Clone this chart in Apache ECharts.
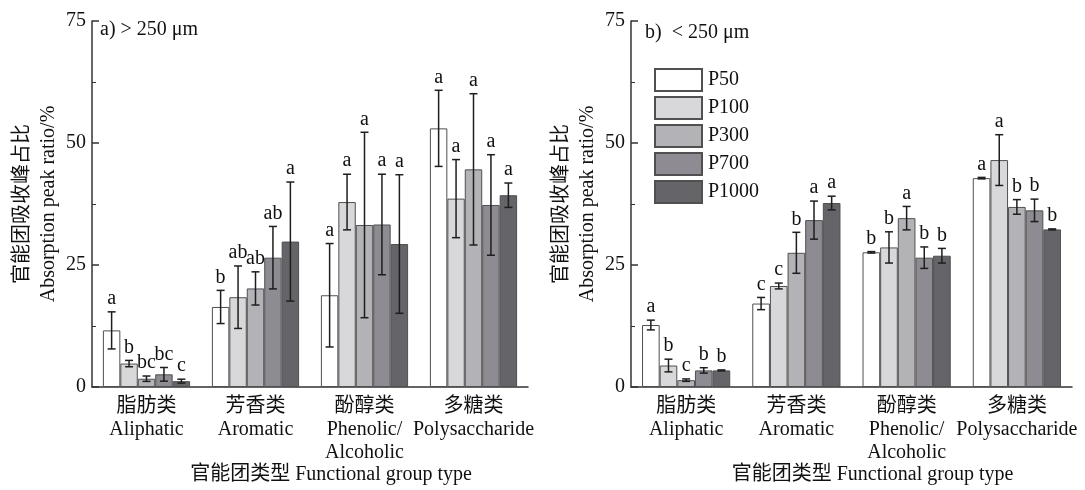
<!DOCTYPE html>
<html>
<head>
<meta charset="utf-8">
<script src="https://cdn.jsdelivr.net/npm/echarts@6/dist/echarts.min.js"></script>
<style>
html,body{margin:0;padding:0;background:#fff;}
#c{width:1085px;height:490px;}
</style>
</head>
<body>
<div id="c"></div>
<script>
var categories = ['脂肪类\nAliphatic', '芳香类\nAromatic', '酚醇类\nPhenolic/\nAlcoholic', '多糖类\nPolysaccharide'];
var seriesNames = ['P50', 'P100', 'P300', 'P700', 'P1000'];
var yTicks = [0, 25, 50, 75];

// panel a) > 250 μm : rows = series (P50..P1000), cols = categories
var meansA = [
  [11.6, 16.4, 18.8, 53.0],
  [4.8, 18.4, 37.9, 38.6],
  [1.7, 20.2, 33.2, 44.6],
  [2.6, 26.5, 33.3, 37.3],
  [1.2, 29.8, 29.3, 39.3]
];
var errA = [
  [3.8, 3.4, 10.6, 7.8],
  [0.65, 6.4, 5.7, 8.0],
  [0.55, 3.4, 19.0, 15.5],
  [1.4, 6.4, 10.3, 10.3],
  [0.4, 12.2, 14.2, 2.5]
];
var sigA = [
  ['a', 'b', 'a', 'a'],
  ['b', 'ab', 'a', 'a'],
  ['bc', 'ab', 'a', 'a'],
  ['bc', 'ab', 'a', 'a'],
  ['c', 'a', 'a', 'a']
];

// panel b) < 250 μm
var meansB = [
  [12.7, 17.1, 27.6, 42.8],
  [4.4, 20.7, 28.6, 46.5],
  [1.4, 27.5, 34.6, 36.9],
  [3.4, 34.2, 26.5, 36.2],
  [3.4, 37.7, 26.9, 32.3]
];
var errB = [
  [1.0, 1.25, 0.15, 0.15],
  [1.3, 0.6, 3.2, 5.2],
  [0.25, 4.2, 2.4, 1.5],
  [0.55, 3.9, 2.2, 2.3],
  [0.1, 1.4, 1.5, 0.1]
];
var sigB = [
  ['a', 'c', 'b', 'a'],
  ['b', 'c', 'b', 'a'],
  ['c', 'b', 'a', 'b'],
  ['b', 'a', 'b', 'b'],
  ['b', 'a', 'b', 'b']
];

var fills = ['#ffffff', '#d8d7d9', '#b3b2b7', '#8f8b92', '#646469'];
var FONT = '"Liberation Serif", "Times New Roman", "Noto Sans CJK SC", serif';
var GAP = 0.2;

var chart = echarts.init(document.getElementById('c'), null, {renderer: 'canvas'});

function makeBars(means, idx) {
  return means.map(function (row, s) {
    return {
      type: 'bar', name: seriesNames[s], xAxisIndex: idx, yAxisIndex: idx,
      data: row, barGap: '0%', barCategoryGap: (GAP * 100) + '%',
      itemStyle: {color: fills[s], borderColor: '#505050', borderWidth: 1},
      emphasis: {disabled: true}, animation: false, z: 2
    };
  });
}

function makeErr(means, errs, sigs, idx) {
  var data = [];
  means.forEach(function (row, s) {
    row.forEach(function (v, c) {
      data.push([c, v, errs[s][c], s, sigs[s][c]]);
    });
  });
  return {
    type: 'custom', xAxisIndex: idx, yAxisIndex: idx, z: 5, animation: false,
    silent: true,
    encode: {x: 0, y: 1},
    data: data,
    renderItem: function (params, api) {
      var c = api.value(0), v = api.value(1), e = api.value(2), s = api.value(3);
      var sig = data[params.dataIndex][4];
      var band = api.size([1, 0])[0];
      var bw = band * (1 - GAP) / seriesNames.length;
      var cx = api.coord([c, v])[0] + (s - (seriesNames.length - 1) / 2) * bw;
      var yTop = api.coord([c, v + e])[1];
      var yBot = api.coord([c, Math.max(0, v - e)])[1];
      var cap = 4;
      var st = {stroke: '#1e1e1e', lineWidth: 1.5};
      return {
        type: 'group',
        children: [
          {type: 'line', shape: {x1: cx, y1: yTop, x2: cx, y2: yBot}, style: st},
          {type: 'line', shape: {x1: cx - cap, y1: yTop, x2: cx + cap, y2: yTop}, style: st},
          {type: 'line', shape: {x1: cx - cap, y1: yBot, x2: cx + cap, y2: yBot}, style: st},
          {type: 'text', x: cx, y: yTop - 3,
           style: {text: sig, font: '20px ' + FONT, fill: '#111', align: 'center', verticalAlign: 'bottom'}}
        ]
      };
    }
  };
}

function xAx(idx) {
  return {
    type: 'category', gridIndex: idx, data: categories,
    axisLine: {show: true, lineStyle: {color: '#333', width: 1.5}},
    axisTick: {show: false},
    axisLabel: {color: '#111', fontSize: 20, fontFamily: FONT, lineHeight: 23, margin: 8, interval: 0},
    name: '官能团类型 Functional group type',
    nameLocation: 'middle', nameGap: 78, nameMoveOverlap: false,
    nameTextStyle: {color: '#111', fontSize: 20, fontFamily: FONT, padding: [0, 0, 0, 42]}
  };
}
function yAx(idx) {
  return {
    type: 'value', gridIndex: idx, min: 0, max: 75, interval: 25,
    axisLine: {show: true, lineStyle: {color: '#333', width: 1.5}},
    axisTick: {show: true, inside: true, length: 7, lineStyle: {color: '#333', width: 1.5}},
    minorTick: {show: true, splitNumber: 2, length: 4, lineStyle: {color: '#333', width: 1}},
    splitLine: {show: false},
    axisLabel: {color: '#111', fontSize: 20, fontFamily: FONT, margin: 6,
      formatter: function (v) { return yTicks.indexOf(v) >= 0 ? String(v) : ''; }},
    name: '官能团吸收峰占比\nAbsorption peak ratio/%',
    nameLocation: 'middle', nameGap: 30, nameRotate: 90, nameMoveOverlap: false,
    nameTextStyle: {color: '#111', fontSize: 20, fontFamily: FONT, lineHeight: 26}
  };
}

var option = {
  backgroundColor: '#fff',
  animation: false,
  title: [
    {text: 'a) > 250 μm', left: 100, top: 20, padding: 0,
     textStyle: {fontSize: 20, fontWeight: 'normal', color: '#111', fontFamily: FONT}},
    {text: 'b)  < 250 μm', left: 645, top: 23, padding: 0,
     textStyle: {fontSize: 20, fontWeight: 'normal', color: '#111', fontFamily: FONT}}
  ],
  legend: {
    data: seriesNames, orient: 'vertical', left: 654, top: 68,
    itemWidth: 47, itemHeight: 22, itemGap: 4, icon: 'rect', padding: 0,
    textStyle: {fontSize: 20, fontFamily: FONT, color: '#111', padding: [0, 0, 0, 1]},
    selectedMode: false
  },
  grid: [
    {left: 92, right: 557, top: 21, bottom: 103, containLabel: false, outerBoundsMode: 'none'},
    {left: 631, right: 13, top: 21, bottom: 103, containLabel: false, outerBoundsMode: 'none'}
  ],
  xAxis: [xAx(0), xAx(1)],
  yAxis: [yAx(0), yAx(1)],
  series: [].concat(
    makeBars(meansA, 0), [makeErr(meansA, errA, sigA, 0)],
    makeBars(meansB, 1), [makeErr(meansB, errB, sigB, 1)]
  )
};
chart.setOption(option);
</script>
</body>
</html>
